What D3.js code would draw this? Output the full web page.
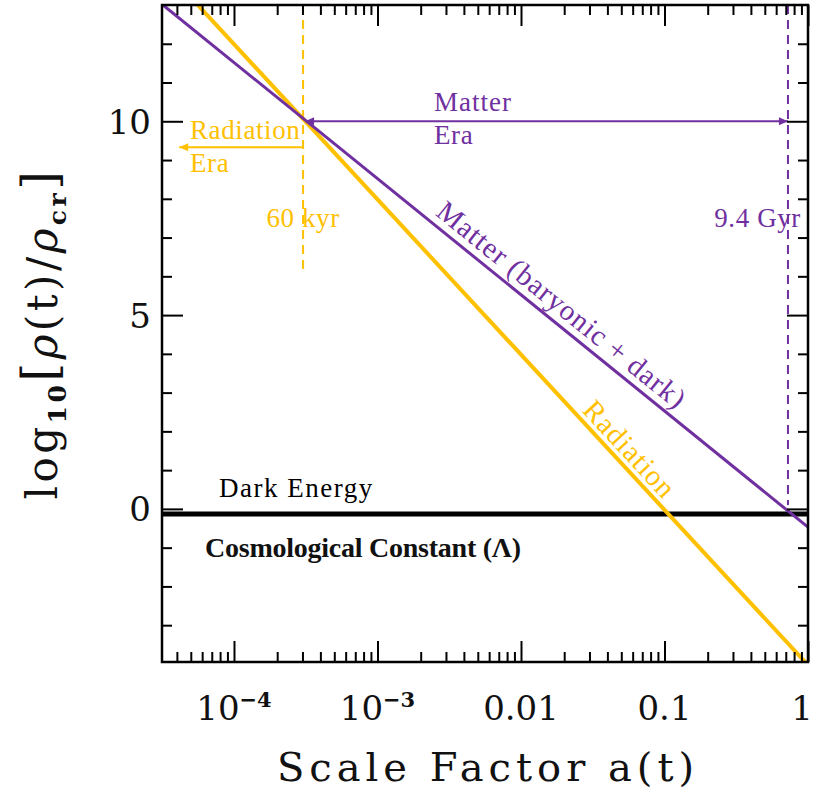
<!DOCTYPE html>
<html>
<head>
<meta charset="utf-8">
<script src="https://cdn.jsdelivr.net/npm/d3@7"></script>
<style>
  body { margin: 0; background: #fff; }
  svg { display: block; }
</style>
</head>
<body>
<svg id="chart" width="814" height="798"></svg>
<script>
// Energy density of each component, log10(rho / rho_cr), against scale factor a(t)
const scaleFactorDomain = [3.15e-5, 1];
const densityDomain = [-3.95, 13];

const radiationA = [3.15e-5, 1];
const radiationLogRho = [14.0, -4.03];
const matterA = [3.15e-5, 1];
const matterLogRho = [13.02, -0.47];
const darkEnergyA = [3.15e-5, 1];
const darkEnergyLogRho = [-0.13, -0.13];

// Equality epochs
const equalityA = 3.03e-4;          // matter-radiation equality (60 kyr)
const lambdaA = 0.725;              // matter-Lambda equality (9.4 Gyr)
const equalityMarkerRho = [13, 6.15];
const lambdaMarkerRho = [13, 0.1];
const matterEraArrowRho = 10;
const radiationEraTipA = 4.15e-5;
const radiationEraArrowRho = 9.33;

// Axis ticks
const xMajorTicks = [1e-4, 1e-3, 0.01, 0.1, 1];
const xTickLabels = [["10", "−4"], ["10", "−3"], ["0.01"], ["0.1"], ["1"]];
const yMajorTicks = [0, 5, 10];
const yTickLabels = ["0", "5", "10"];
const yMinorTicks = [-3, -2, -1, 1, 2, 3, 4, 6, 7, 8, 9, 11, 12];

const ORANGE = "#FFC000";
const PURPLE = "#7030A0";
const ANNOT_FONT = "'Liberation Serif', serif";
const AXIS_FONT = "'DejaVu Serif', serif";

const W = 814, H = 798;
const plot = { left: 162, right: 808, top: 5, bottom: 662 };

const svg = d3.select("#chart");
svg.append("rect").attr("width", W).attr("height", H).attr("fill", "#fff");

const x = d3.scaleLog().domain(scaleFactorDomain).range([plot.left, plot.right]);
const y = d3.scaleLinear().domain(densityDomain).range([plot.bottom, plot.top]);

svg.append("clipPath").attr("id", "plot-clip")
  .append("rect")
  .attr("x", plot.left).attr("y", plot.top)
  .attr("width", plot.right - plot.left).attr("height", plot.bottom - plot.top);

const defs = svg.append("defs");
function arrowMarker(id, color) {
  defs.append("marker")
    .attr("id", id)
    .attr("viewBox", "0 -5 10 10")
    .attr("refX", 10).attr("refY", 0)
    .attr("markerUnits", "userSpaceOnUse")
    .attr("markerWidth", 11).attr("markerHeight", 9)
    .attr("orient", "auto-start-reverse")
    .append("path").attr("d", "M0,-4.5L10,0L0,4.5Z").attr("fill", color);
}
arrowMarker("arrow-purple", PURPLE);
arrowMarker("arrow-orange", ORANGE);

const g = svg.append("g").attr("clip-path", "url(#plot-clip)");

const line = d3.line().x(d => x(d[0])).y(d => y(d[1]));
const zipPts = (as, vs) => as.map((a, i) => [a, vs[i]]);

// Equality markers (dashed verticals)
g.append("path")
  .datum(zipPts([equalityA, equalityA], equalityMarkerRho))
  .attr("d", line).attr("fill", "none")
  .attr("stroke", ORANGE).attr("stroke-width", 2).attr("stroke-dasharray", "9,6");
g.append("path")
  .datum(zipPts([lambdaA, lambdaA], lambdaMarkerRho))
  .attr("d", line).attr("fill", "none")
  .attr("stroke", PURPLE).attr("stroke-width", 2).attr("stroke-dasharray", "9,6");

// Cosmological constant
g.append("path")
  .datum(zipPts(darkEnergyA, darkEnergyLogRho))
  .attr("d", line).attr("fill", "none")
  .attr("stroke", "#000").attr("stroke-width", 5);

// Radiation
g.append("path")
  .datum(zipPts(radiationA, radiationLogRho))
  .attr("d", line).attr("fill", "none")
  .attr("stroke", ORANGE).attr("stroke-width", 4);

// Matter
g.append("path")
  .datum(zipPts(matterA, matterLogRho))
  .attr("d", line).attr("fill", "none")
  .attr("stroke", PURPLE).attr("stroke-width", 3);

// Era arrows
svg.append("line")
  .attr("x1", x(equalityA) + 2).attr("x2", x(lambdaA))
  .attr("y1", y(matterEraArrowRho)).attr("y2", y(matterEraArrowRho))
  .attr("stroke", PURPLE).attr("stroke-width", 2)
  .attr("marker-start", "url(#arrow-purple)")
  .attr("marker-end", "url(#arrow-purple)");
svg.append("line")
  .attr("x1", x(equalityA) - 1).attr("x2", x(radiationEraTipA))
  .attr("y1", y(radiationEraArrowRho)).attr("y2", y(radiationEraArrowRho))
  .attr("stroke", ORANGE).attr("stroke-width", 2)
  .attr("marker-end", "url(#arrow-orange)");

// Annotations
function label(txt, px, py, color, opts = {}) {
  return svg.append("text")
    .attr("x", px).attr("y", py)
    .attr("fill", color)
    .attr("font-family", opts.family || ANNOT_FONT)
    .attr("font-size", opts.size || 26)
    .attr("font-weight", opts.weight || "normal")
    .attr("text-anchor", opts.anchor || "start")
    .attr("letter-spacing", opts.spacing !== undefined ? opts.spacing : 0.6)
    .text(txt);
}
label("Radiation", 190, 139, ORANGE, { size: 27 });
label("Era", 190, 171.5, ORANGE, { size: 27 });
label("Matter", 434, 111, PURPLE, { size: 27, spacing: 1 });
label("Era", 434, 144, PURPLE, { size: 27 });
label("60 kyr", x(equalityA), 227, ORANGE, { anchor: "middle", size: 27 });
label("9.4 Gyr", x(lambdaA) + 13, 227, PURPLE, { anchor: "end", size: 27 });
label("Dark Energy", 219, 497, "#000", { size: 27, spacing: 1.5 });
label("Cosmological Constant (Λ)", 205, 557, "#111",
  { family: "'Liberation Serif', serif", size: 28, weight: "bold", spacing: 0 })
  .attr("textLength", 316).attr("lengthAdjust", "spacing");

// Labels running along the sloped lines
function slopedLabel(txt, as, vs, atA, offset, color) {
  const x0 = x(as[0]), y0 = y(vs[0]), x1 = x(as[1]), y1 = y(vs[1]);
  const ang = Math.atan2(y1 - y0, x1 - x0);
  const t = (x(atA) - x0) / (x1 - x0);
  const px = x0 + t * (x1 - x0), py = y0 + t * (y1 - y0);
  const ux = Math.sin(ang), uy = -Math.cos(ang);
  svg.append("text")
    .attr("transform", `translate(${px + ux * offset},${py + uy * offset}) rotate(${ang * 180 / Math.PI})`)
    .attr("fill", color)
    .attr("font-family", ANNOT_FONT)
    .attr("font-size", 29)
    .attr("letter-spacing", 1)
    .text(txt);
}
slopedLabel("Matter (baryonic + dark)", matterA, matterLogRho, 2.3e-3, 8, PURPLE);
slopedLabel("Radiation", radiationA, radiationLogRho, 0.0245, 6, ORANGE);

// Frame and inward ticks
const axes = svg.append("g");
const xMinorTicks = x.ticks().filter(v => !xMajorTicks.some(m => Math.abs(m - v) / m < 1e-6));

function drawAxis(axisFn, scale, values, size, transform) {
  axes.append("g")
    .attr("transform", transform)
    .call(axisFn(scale).tickValues(values).tickSize(size).tickFormat(""))
    .call(s => s.select(".domain").remove())
    .call(s => s.selectAll("line").attr("stroke", "#000").attr("stroke-width", 2));
}
drawAxis(d3.axisBottom, x, xMajorTicks, -21, `translate(0,${plot.bottom})`);
drawAxis(d3.axisBottom, x, xMinorTicks, -10, `translate(0,${plot.bottom})`);
drawAxis(d3.axisTop, x, xMajorTicks, -21, `translate(0,${plot.top})`);
drawAxis(d3.axisTop, x, xMinorTicks, -10, `translate(0,${plot.top})`);
drawAxis(d3.axisLeft, y, yMajorTicks, -21, `translate(${plot.left},0)`);
drawAxis(d3.axisLeft, y, yMinorTicks, -10, `translate(${plot.left},0)`);
drawAxis(d3.axisRight, y, yMajorTicks, -21, `translate(${plot.right},0)`);
drawAxis(d3.axisRight, y, yMinorTicks, -10, `translate(${plot.right},0)`);

axes.append("rect")
  .attr("x", plot.left).attr("y", plot.top)
  .attr("width", plot.right - plot.left).attr("height", plot.bottom - plot.top)
  .attr("fill", "none").attr("stroke", "#000").attr("stroke-width", 2.5);

// Tick labels
const xLab = svg.append("g")
  .attr("font-family", AXIS_FONT).attr("font-size", 34).attr("fill", "#111");
xMajorTicks.forEach((v, i) => {
  const parts = xTickLabels[i];
  const t = xLab.append("text").attr("x", x(v)).attr("y", 720).attr("text-anchor", "middle");
  t.append("tspan").text(parts[0]);
  if (parts[1]) {
    t.append("tspan").attr("font-size", 21).attr("dy", -13).attr("font-weight", "bold").text(parts[1]);
  }
});
// keep the last label inside the page
xLab.selectAll("text").each(function () {
  const bb = this.getBBox();
  if (bb.x + bb.width > W - 1) {
    d3.select(this).attr("x", +d3.select(this).attr("x") - (bb.x + bb.width - (W - 1)));
  }
});
const yLab = svg.append("g")
  .attr("font-family", AXIS_FONT).attr("font-size", 34).attr("fill", "#111");
yMajorTicks.forEach((v, i) => {
  yLab.append("text").attr("x", 151).attr("y", y(v) + 12.5)
    .attr("text-anchor", "end").text(yTickLabels[i]);
});

// Axis titles
svg.append("text")
  .attr("x", (plot.left + plot.right) / 2 + 3).attr("y", 781)
  .attr("text-anchor", "middle")
  .attr("font-family", AXIS_FONT).attr("font-size", 40).attr("fill", "#111")
  .attr("letter-spacing", 5)
  .text("Scale Factor a(t)");

const yt = svg.append("text")
  .attr("transform", `translate(57,${(plot.top + plot.bottom) / 2}) rotate(-90)`)
  .attr("text-anchor", "middle")
  .attr("font-family", AXIS_FONT).attr("font-size", 42).attr("fill", "#111")
  .attr("letter-spacing", 3.5);
yt.append("tspan").text("log");
yt.append("tspan").attr("font-size", 25).attr("dy", 9).attr("font-weight", "bold").text("10");
yt.append("tspan").attr("dy", -9).attr("font-size", 48).text("[");
yt.append("tspan").attr("font-style", "italic").text("ρ");
yt.append("tspan").text("(t)/");
yt.append("tspan").attr("font-style", "italic").text("ρ");
yt.append("tspan").attr("font-size", 25).attr("dy", 9).attr("font-weight", "bold").text("cr");
yt.append("tspan").attr("dy", -9).attr("font-size", 48).text("]");
</script>
</body>
</html>
